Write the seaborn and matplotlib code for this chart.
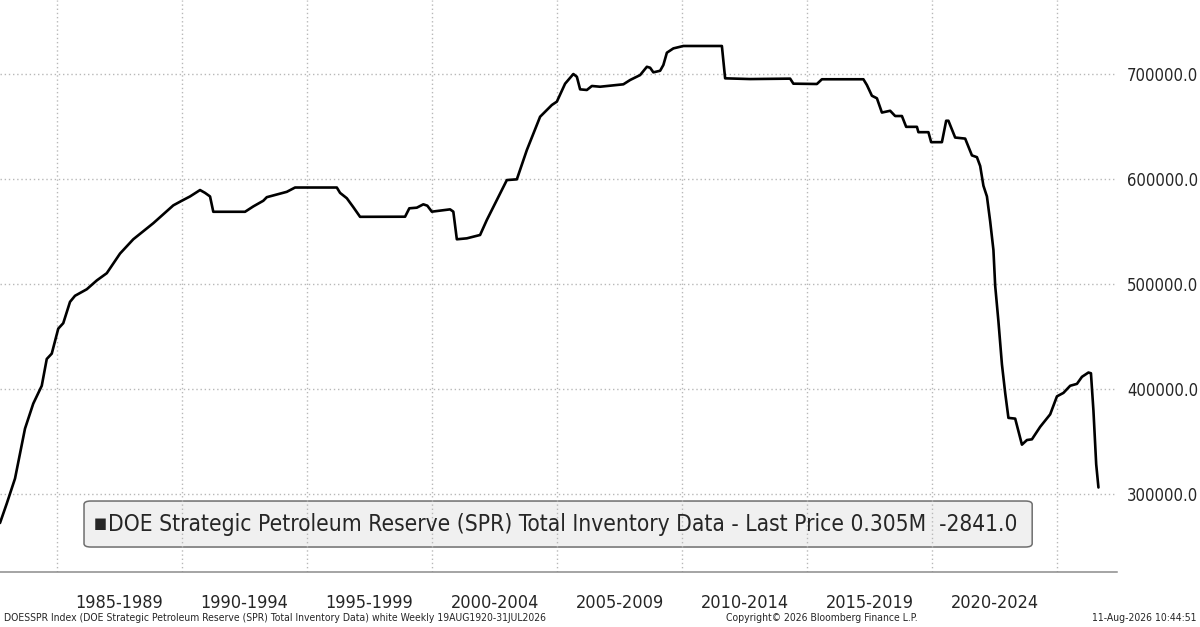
"""
DOE Strategic Petroleum Reserve - style terminal Bloomberg
"""

import matplotlib
matplotlib.use("Agg")
import matplotlib.pyplot as plt
import matplotlib.ticker as mticker
from matplotlib.patches import FancyBboxPatch
import pandas as pd
import seaborn as sns

# ============================================================
# DONNÉES (milliers de barils)
# ============================================================

annees = [
    1982.72, 1982.99, 1983.32, 1983.72, 1984.05, 1984.39, 1984.59, 1984.79,
    1985.05, 1985.25, 1985.52, 1985.72, 1986.19, 1986.59, 1986.99, 1987.52,
    1988.05, 1988.85, 1989.65, 1989.99, 1990.32, 1990.72, 1990.92, 1991.12,
    1991.25, 1992.52, 1992.85, 1993.25, 1993.39, 1994.19, 1994.52, 1996.19,
    1996.32, 1996.59, 1996.85, 1997.12, 1998.92, 1999.09, 1999.39, 1999.65,
    1999.81, 1999.99, 2000.72, 2000.85, 2000.99, 2001.39, 2001.92, 2002.19,
    2002.59, 2002.99, 2003.39, 2003.79, 2004.32, 2004.79, 2004.99, 2005.32,
    2005.65, 2005.79, 2005.92, 2006.19, 2006.39, 2006.72, 2007.65, 2007.92,
    2008.32, 2008.59, 2008.72, 2008.85, 2009.12, 2009.25, 2009.39, 2009.65,
    2010.05, 2011.59, 2011.72, 2012.72, 2014.32, 2014.45, 2015.39, 2015.59,
    2017.25, 2017.39, 2017.59, 2017.79, 2017.99, 2018.32, 2018.52, 2018.79,
    2018.96, 2019.39, 2019.45, 2019.85, 2019.96, 2020.39, 2020.56, 2020.65,
    2020.92, 2021.32, 2021.59, 2021.79, 2021.92, 2022.05, 2022.19, 2022.32,
    2022.45, 2022.52, 2022.65, 2022.79, 2022.92, 2023.05, 2023.32, 2023.59,
    2023.79, 2023.99, 2024.32, 2024.72, 2024.99, 2025.25, 2025.52, 2025.79,
    2025.99, 2026.25, 2026.35, 2026.45, 2026.56, 2026.65,
]

stock_spr = [
    272400, 290900, 314700, 362300, 386100, 403100, 428600, 433700,
    457500, 462700, 483000, 488800, 495000, 503400, 510300, 529000,
    542600, 557900, 574900, 579300, 583400, 589500, 586800, 583400,
    568800, 568800, 573900, 579300, 582700, 587800, 591900, 591900,
    586800, 581700, 573200, 564000, 564100, 572100, 572700, 575900,
    574600, 568900, 571100, 568900, 542600, 543500, 546700, 561000,
    580000, 599000, 599700, 627600, 659300, 670500, 673700, 690800,
    700000, 697400, 685400, 684800, 688600, 687900, 690200, 694300,
    699000, 706900, 706000, 701600, 703100, 708600, 720300, 724400,
    726700, 726700, 695900, 695200, 695600, 690800, 690500, 695000,
    695000, 689500, 679300, 676900, 663300, 665000, 660000, 660000,
    649700, 649700, 644600, 644600, 635100, 635100, 655500, 655500,
    639500, 638500, 622500, 620800, 612400, 593600, 583400, 559600,
    532400, 498400, 464400, 423500, 396300, 372500, 371800, 347000,
    351400, 352100, 364000, 375900, 393000, 396300, 403100, 404900,
    411600, 415700, 415000, 379300, 328300, 306200,
]

periodes = ["1985-1989", "1990-1994", "1995-1999", "2000-2004",
            "2005-2009", "2010-2014", "2015-2019", "2020-2024"]
debut_periodes = [1985, 1990, 1995, 2000, 2005, 2010, 2015, 2020, 2025]
niveaux_y = [300000, 400000, 500000, 600000, 700000]

titre_legende = ("DOE Strategic Petroleum Reserve (SPR) Total Inventory Data"
                 " - Last Price 0.305M  -2841.0")
pied_gauche = ("DOESSPR Index (DOE Strategic Petroleum Reserve (SPR) Total "
               "Inventory Data) white Weekly 19AUG1920-31JUL2026")
pied_centre = "Copyright\u00a9 2026 Bloomberg Finance L.P."
pied_droite = "11-Aug-2026 10:44:51"

# ============================================================
# STYLE
# ============================================================

sns.set_style("white")
plt.rcParams["font.family"] = ["DejaVu Sans"]
plt.rcParams["font.stretch"] = "condensed"

GRIS_GRILLE = "#b8b8b8"
GRIS_AXE = "#8c8c8c"

df = pd.DataFrame({"annee": annees, "stock": stock_spr})

fig = plt.figure(figsize=(12, 6.27), dpi=100)
ax = fig.add_axes([0, 0.0877, 0.931, 0.9123])

sns.lineplot(data=df, x="annee", y="stock", ax=ax,
             color="black", linewidth=1.9, zorder=3)

ax.set_xlim(1982.72, 2027.4)
ax.set_ylim(225700, 770500)
ax.set_xlabel("")
ax.set_ylabel("")

# --- Axe Y à droite ---
ax.yaxis.tick_right()
ax.set_yticks(niveaux_y)
ax.yaxis.set_major_formatter(mticker.FuncFormatter(lambda v, _: f"{v:.1f}"))
ax.tick_params(axis="y", length=0, pad=7, labelsize=12)

# --- Axe X : séparateurs 5 ans + graduations annuelles ---
ax.set_xticks(debut_periodes)
ax.set_xticklabels([])
ax.xaxis.set_minor_locator(mticker.MultipleLocator(1))
ax.tick_params(axis="x", which="major", length=31, width=1.1,
               color="#a8a8a8", direction="out")
ax.tick_params(axis="x", which="minor", length=4, width=1,
               color="#707070", direction="out")

for i, label in enumerate(periodes):
    ax.text(debut_periodes[i] + 2.5, -0.054, label,
            transform=ax.get_xaxis_transform(),
            ha="center", va="center", fontsize=13)

for cote in ["left", "top", "right"]:
    ax.spines[cote].set_visible(False)
ax.spines["bottom"].set_color(GRIS_AXE)
ax.spines["bottom"].set_linewidth(1.1)

ax.grid(True, which="major", linestyle=(0, (1, 2)),
        color=GRIS_GRILLE, linewidth=1)
ax.set_axisbelow(True)

# --- Encadré légende (sous la grille, comme l'original) ---
boite = FancyBboxPatch((0.0752, 0.0437), 0.8487, 0.0804,
                       boxstyle="round,pad=0,rounding_size=0.006",
                       transform=ax.transAxes, facecolor="#f0f0f0",
                       edgecolor="#6e6e6e", linewidth=1.1, zorder=0.2)
ax.add_patch(boite)
ax.text(0.0895, 0.0855, "\u25a0", transform=ax.transAxes,
        ha="center", va="center", fontsize=11, zorder=5)
ax.text(0.0965, 0.0839, titre_legende, transform=ax.transAxes,
        ha="left", va="center", fontsize=16.3, zorder=5)

# --- Pied de page ---
fig.text(0.003, 0.0144, pied_gauche, ha="left", va="center", fontsize=7.5)
fig.text(0.685, 0.0144, pied_centre, ha="center", va="center", fontsize=7.5)
fig.text(0.997, 0.0144, pied_droite, ha="right", va="center", fontsize=7.5)

fig.savefig("out.png", dpi=100, facecolor="white")
plt.close(fig)
